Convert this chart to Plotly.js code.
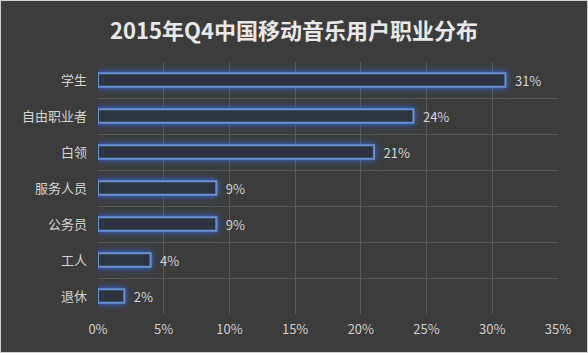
<!DOCTYPE html>
<html><head><meta charset="utf-8">
<script src="https://cdn.plot.ly/plotly-3.0.1.min.js"></script>
<style>
html,body{margin:0;padding:0;background:#cfcfcf;}
#chart{width:586px;height:351px;margin:1px;}
.barlayer .point path{filter:drop-shadow(0 0 2px rgba(50,110,230,0.8)) drop-shadow(0 0 4px rgba(50,110,230,0.5));}
</style></head>
<body><div id="chart"></div>
<script>
var categories = ["学生","自由职业者","白领","服务人员","公务员","工人","退休"];
var values = [31,24,21,9,9,4,2];
var labels = values.map(function(v){return "\u2002"+v+"%";});

var trace = {
  type:"bar", orientation:"h",
  y:categories, x:values, text:labels,
  textposition:"outside", cliponaxis:false, constraintext:"none",
  textfont:{color:"#d4d4d4", size:13, family:"Noto Sans CJK SC"},
  width:0.38,
  marker:{color:"#2c3440", line:{color:"#6b90cf", width:2}},
  hoverinfo:"none"
};
var layout = {
  width:586, height:351,
  paper_bgcolor:"#3c3c3c", plot_bgcolor:"#3c3c3c",
  margin:{l:97, r:29, t:61, b:38},
  title:{text:"<b>2015年Q4中国移动音乐用户职业分布</b>", x:0.5, xanchor:"center", y:0.915, yanchor:"middle",
    font:{color:"#e8e8e8", size:22, family:"Noto Sans CJK SC"}},
  xaxis:{range:[0,35], dtick:5, ticksuffix:"%", showgrid:true, gridcolor:"#595959", gridwidth:1,
    zeroline:false, showline:false, tickfont:{color:"#cfcfcf", size:13, family:"Noto Sans CJK SC"}, ticklen:0, ticks:"", ticklabelstandoff:6, fixedrange:true},
  yaxis:{type:"category", autorange:"reversed", tickson:"boundaries", showgrid:true, gridcolor:"#595959", gridwidth:1,
    ticks:"", ticklen:0, showline:false, zeroline:false, ticklabelstandoff:10,
    tickfont:{color:"#d4d4d4", size:13, family:"Noto Sans CJK SC"}},
  showlegend:false
};
Plotly.newPlot("chart",[trace],layout,{staticPlot:true});
</script></body></html>
